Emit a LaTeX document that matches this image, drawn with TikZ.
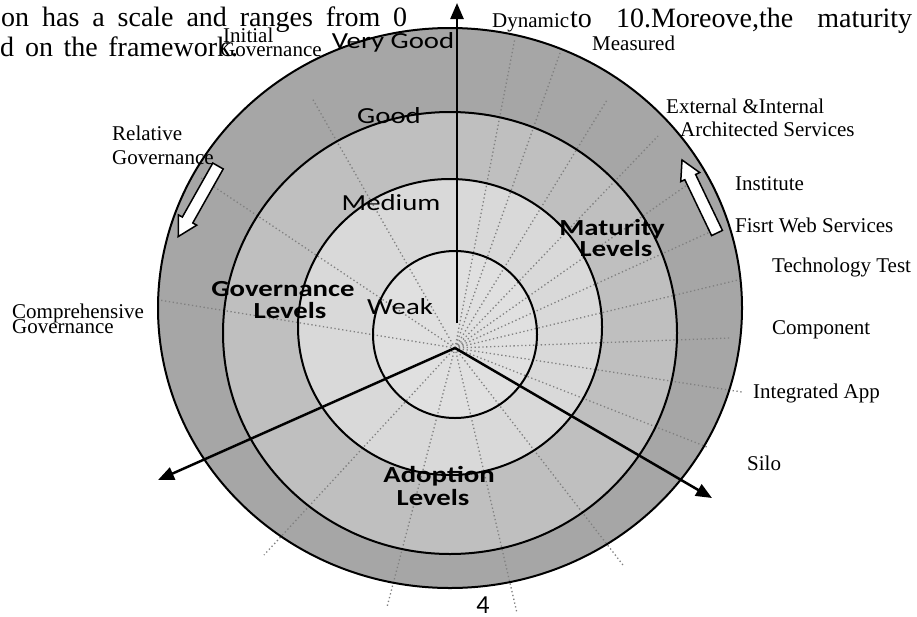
\documentclass[tikz,border=0pt]{standalone}
\usepackage{fontspec}
\usepackage{graphicx}
\setmainfont{Liberation Serif}
\newfontfamily\calib{Carlito}
\usetikzlibrary{arrows.meta}
\definecolor{ringA}{gray}{0.651}
\definecolor{ringB}{gray}{0.749}
\definecolor{ringC}{gray}{0.851}
\definecolor{ringD}{gray}{0.878}
\definecolor{spokec}{gray}{0.5}
\newcommand\lvtext[1]{\scalebox{1.25}[1]{\calib\fontsize{23}{23}\selectfont #1}}
\newcommand\lvbold[1]{\scalebox{1.25}[1]{\calib\bfseries\fontsize{23}{23}\selectfont #1}}
\begin{document}
\begin{tikzpicture}[x=1pt,y=-1pt,
  lbl/.style={font=\fontsize{21}{21}\selectfont, inner sep=0pt, anchor=base west},
  bodytxt/.style={font=\fontsize{28}{28}\selectfont, inner sep=0pt, anchor=base west},
  lvl/.style={inner sep=0pt, anchor=base},
  ringline/.style={draw=black, line width=2pt},
  spoke/.style={draw=spokec, line width=1.3pt, dash pattern=on 1.3pt off 2.6pt},
  axis/.style={line width=2.5pt, -{Triangle[length=16pt,width=13pt]}},
  blockarr/.style={draw=black, fill=white, line width=1.5pt, line join=miter}]
\useasboundingbox (0,0) rectangle (917,616);
\fill[white] (0,0) rectangle (917,616);
% ring fills
\fill[ringA] (450,308) ellipse [x radius=292pt, y radius=280pt];
\fill[ringB] (450,333) ellipse [x radius=227pt, y radius=221pt];
\fill[ringC] (450,327) ellipse [x radius=152pt, y radius=148pt];
\fill[ringD] (455,334.5) ellipse [x radius=82pt, y radius=83.5pt];
% spokes
\coordinate (O) at (455,348);
\coordinate (s1) at (312,98);
\coordinate (s2) at (201,178);
\coordinate (s3) at (159,300);
\coordinate (s4) at (264,555);
\coordinate (s5) at (387,607);
\coordinate (s6) at (517,613);
\coordinate (s7) at (623,565);
\coordinate (s8) at (707,447);
\coordinate (s9) at (742,392);
\coordinate (s10) at (730,338);
\coordinate (s11) at (738,280);
\coordinate (s12) at (710,232);
\coordinate (s13) at (687,185);
\coordinate (s14) at (658,136);
\coordinate (s15) at (607,100);
\coordinate (s16) at (560,53);
\coordinate (s17) at (515,38);
\draw[spoke] (O) -- (s1);
\draw[spoke] (O) -- (s2);
\draw[spoke] (O) -- (s3);
\draw[spoke] (O) -- (s4);
\draw[spoke] (O) -- (s5);
\draw[spoke] (O) -- (s6);
\draw[spoke] (O) -- (s7);
\draw[spoke] (O) -- (s8);
\draw[spoke] (O) -- (s9);
\draw[spoke] (O) -- (s10);
\draw[spoke] (O) -- (s11);
\draw[spoke] (O) -- (s12);
\draw[spoke] (O) -- (s13);
\draw[spoke] (O) -- (s14);
\draw[spoke] (O) -- (s15);
\draw[spoke] (O) -- (s16);
\draw[spoke] (O) -- (s17);
% ring outlines
\draw[ringline] (450,308) ellipse [x radius=292pt, y radius=280pt];
\draw[ringline] (450,333) ellipse [x radius=227pt, y radius=221pt];
\draw[ringline] (450,327) ellipse [x radius=152pt, y radius=148pt];
\draw[ringline] (455,334.5) ellipse [x radius=82pt, y radius=83.5pt];
% axes
\coordinate (Vs) at (457,323);
\coordinate (Vt) at (457,3);
\coordinate (SW) at (158,480);
\coordinate (SE) at (712,498);
\draw[axis] (Vs) -- (Vt);
\draw[axis] (O) -- (SW);
\draw[axis] (O) -- (SE);
% block arrows
\begin{scope}[shift={(717,233)}, rotate=115.6]
\draw[blockarr] (0,-6) -- (62,-6) -- (62,-10.5) -- (81,0) -- (62,10.5) -- (62,6) -- (0,6) -- cycle;
\end{scope}
\begin{scope}[shift={(218,166)}, rotate=240.6]
\draw[blockarr] (0,-6) -- (62,-6) -- (62,-10.5) -- (81,0) -- (62,10.5) -- (62,6) -- (0,6) -- cycle;
\end{scope}
% body text fragments
\node[bodytxt] (b1) at (1,26) {\makebox[406pt][s]{on has a scale and ranges from 0}};
\node[bodytxt] (b2) at (0,56) {d};
\node[bodytxt] (b3) at (25,56) {\makebox[213pt][s]{on the framework.}};
\node[bodytxt] (b4) at (570,27) {\makebox[342pt][s]{to 10.Moreove,the maturity}};
% maturity labels
\node[lbl] (dyn) at (492,27) {Dynamic};
\node[lbl] (mea) at (592,50) {Measured};
\node[lbl] (ext) at (666,113) {External \&Internal};
\node[lbl] (arc) at (680,136) {Architected Services};
\node[lbl] (ins) at (735,190) {Institute};
\node[lbl] (fws) at (735,232) {Fisrt Web Services};
\node[lbl] (tec) at (772,272) {Technology Test};
\node[lbl] (com) at (772,334) {Component};
\node[lbl] (int) at (753,398) {Integrated App};
\node[lbl] (sil) at (747,470) {Silo};
% governance labels
\node[lbl] (ini1) at (223,42) {Initial};
\node[lbl] (ini2) at (220,56) {Governance};
\node[lbl] (rel1) at (112,140) {Relative};
\node[lbl] (rel2) at (112,164) {Governance};
\node[lbl] (cmp1) at (12,318) {Comprehensive};
\node[lbl] (cmp2) at (12,333) {Governance};
% level labels
\node[lvl] (vg) at (393,48) {\lvtext{Very Good}};
\node[lvl] (gd) at (389,123) {\lvtext{Good}};
\node[lvl] (md) at (391,210) {\lvtext{Medium}};
\node[lvl] (wk) at (400,314) {\lvtext{Weak}};
\node[lvl] (gl1) at (283,296) {\lvbold{Governance}};
\node[lvl] (gl2) at (290,318) {\lvbold{Levels}};
\node[lvl] (ml1) at (612,235) {\lvbold{Maturity}};
\node[lvl] (ml2) at (616,256) {\lvbold{Levels}};
\node[lvl] (al1) at (439,482) {\lvbold{Adoption}};
\node[lvl] (al2) at (433,505) {\lvbold{Levels}};
\node[lvl] (pg) at (483,613) {\calib\fontsize{26}{26}\selectfont 4};
\end{tikzpicture}
\end{document}
